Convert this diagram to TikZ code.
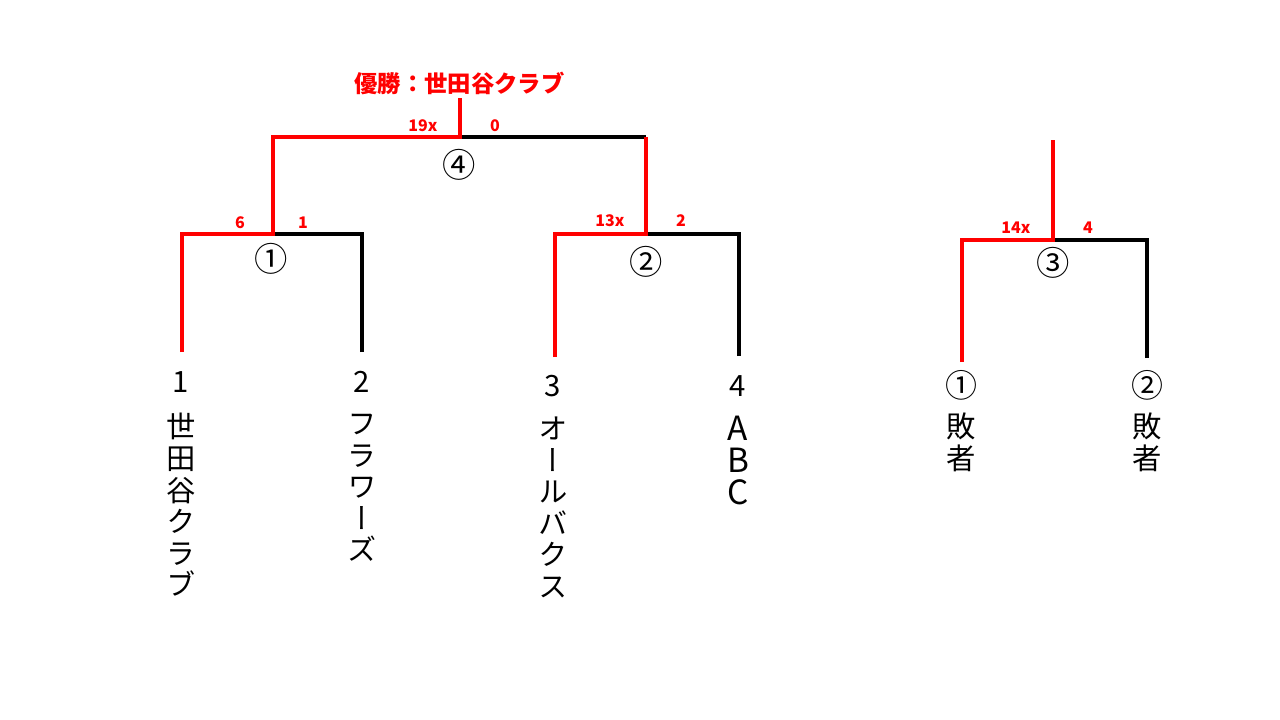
\documentclass[tikz,border=0pt]{standalone}
\usepackage{fontspec}
\setmainfont{Noto Sans CJK JP}
\newfontfamily\jpvert[RawFeature=+vert]{Noto Sans CJK JP}
\begin{document}
\begin{tikzpicture}[x=0.75pt,y=-0.75pt,
  win/.style={draw=red,line width=3pt},
  lose/.style={draw=black,line width=3pt},
  score/.style={text=red,inner sep=0pt,font=\bfseries\fontsize{12}{14}\selectfont},
  rnd/.style={inner sep=0pt,font=\fontsize{25}{25}\selectfont},
  seed/.style={inner sep=0pt,font=\fontsize{22}{24}\selectfont},
  team/.style={inner sep=0pt,align=center,font=\jpvert\fontsize{22}{23.7}\selectfont},
  title/.style={text=red,inner sep=0pt,font=\bfseries\fontsize{17.5}{20}\selectfont}]
\useasboundingbox (0,0) rectangle (1280,720);
% junction coordinates
\coordinate (t1) at (182,352);
\coordinate (t2) at (362,352);
\coordinate (t3) at (555,357);
\coordinate (t4) at (739,356);
\coordinate (m1l) at (182,234);
\coordinate (m1c) at (273,234);
\coordinate (m1r) at (362,234);
\coordinate (m2l) at (555,234);
\coordinate (m2c) at (646,234);
\coordinate (m2r) at (739,234);
\coordinate (m4l) at (273,137);
\coordinate (m4c) at (459.5,137);
\coordinate (m4r) at (646,137);
\coordinate (top) at (459.5,98);
\coordinate (l1) at (962,362);
\coordinate (l2) at (1147,358);
\coordinate (m3l) at (962,240);
\coordinate (m3c) at (1053,240);
\coordinate (m3r) at (1147,240);
\coordinate (m3t) at (1053,140);
% losing lines
\draw[lose] (t2) -- (m1r) -- (m1c);
\draw[lose] (t4) -- (m2r) -- (m2c);
\draw[lose] (m4c) -- (m4r);
\draw[lose] (l2) -- (m3r) -- (m3c);
% winning lines
\draw[win] (t1) -- (m1l) -- (m1c) -- (m4l) -- (m4c) -- (top);
\draw[win] (t3) -- (m2l) -- (m2c) -- (m4r);
\draw[win] (l1) -- (m3l) -- (m3c) -- (m3t);
% title
\node[title] (champ) at (459.5,83) {優勝：世田谷クラブ};
% scores
\node[score] (s1a) at (240,223) {6};
\node[score] (s1b) at (303,223) {1};
\node[score] (s2a) at (610,221) {13x};
\node[score] (s2b) at (681,221) {2};
\node[score] (s4a) at (423,126) {19x};
\node[score] (s4b) at (495,126) {0};
\node[score] (s3a) at (1016,228) {14x};
\node[score] (s3b) at (1088,228) {4};
% round numbers
\node[rnd] (r1) at (271,259) {①};
\node[rnd] (r2) at (646,262) {②};
\node[rnd] (r4) at (459,165) {④};
\node[rnd] (r3) at (1053,263) {③};
% seeds
\node[seed] (n1) at (181,382) {1};
\node[seed] (n2) at (362,382) {2};
\node[seed] (n3) at (553,386) {3};
\node[seed] (n4) at (738,386) {4};
\node[seed,font=\fontsize{24}{24}\selectfont] (n5) at (961,385) {①};
\node[seed,font=\fontsize{24}{24}\selectfont] (n6) at (1147,385) {②};
% teams
\node[team] (a1) at (181,505) {世\\田\\谷\\ク\\ラ\\ブ};
\node[team] (a2) at (362,488) {フ\\ラ\\ワ\\ー\\ズ};
\node[team] (a3) at (553,507.5) {オ\\ー\\ル\\バ\\ク\\ス};
\node[team,font=\fontsize{25}{24}\selectfont] (a4) at (738,460) {A\\B\\C};
\node[team] (a5) at (961,442.5) {敗\\者};
\node[team] (a6) at (1147,442.5) {敗\\者};
\end{tikzpicture}
\end{document}
